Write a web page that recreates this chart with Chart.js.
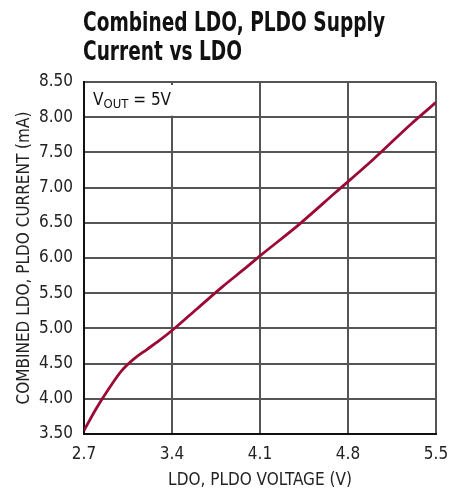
<!DOCTYPE html>
<html>
<head>
<meta charset="utf-8">
<script src="https://cdn.jsdelivr.net/npm/chart.js@4"></script>
<style>
  html, body { margin: 0; padding: 0; background: #fff; }
  #wrap { position: relative; width: 463px; height: 489px; }
  canvas { display: block; }
</style>
</head>
<body>
<div id="wrap"><canvas id="c" width="463" height="489"></canvas></div>
<script>
// ---- data ----
const titleLines = ["Combined LDO, PLDO Supply", "Current vs LDO"];
const xTitle = "LDO, PLDO VOLTAGE (V)";
const yTitle = "COMBINED LDO, PLDO CURRENT (mA)";
const xTicks = [2.7, 3.4, 4.1, 4.8, 5.5];
const yTicks = [3.5, 4.0, 4.5, 5.0, 5.5, 6.0, 6.5, 7.0, 7.5, 8.0, 8.5];
const voltage = [2.7, 2.8, 2.9, 3.0, 3.1, 3.2, 3.3, 3.4, 3.6, 3.8, 4.0, 4.1, 4.4, 4.7, 5.0, 5.3, 5.5];
const current = [3.55, 3.87, 4.15, 4.40, 4.57, 4.70, 4.83, 4.97, 5.28, 5.59, 5.88, 6.03, 6.46, 6.93, 7.40, 7.90, 8.21];
const noteMain = "V";
const noteSub = "OUT";
const noteRest = " = 5V";

const FONT = "'DejaVu Sans Condensed', 'Liberation Sans', sans-serif";
const LINE_COLOR = "#9b0a35";
const GRID_COLOR = "#555555";

const points = voltage.map((v, i) => ({ x: v, y: current[i] }));

const overlay = {
  id: 'overlay',
  afterDraw(chart) {
    const ctx = chart.ctx;
    const ca = chart.chartArea;
    const xs = chart.scales.x, ys = chart.scales.y;
    ctx.save();
    // title, horizontally condensed
    ctx.fillStyle = '#111';
    ctx.font = "bold 26px " + FONT;
    ctx.textBaseline = 'alphabetic';
    ctx.textAlign = 'left';
    const w0 = ctx.measureText(titleLines[0]).width;
    const sx = 302 / w0;
    ctx.save();
    ctx.translate(ca.left - 1, 0);
    ctx.scale(sx, 1);
    ctx.fillText(titleLines[0], 0, 31);
    ctx.fillText(titleLines[1], 0, 60);
    ctx.restore();
    // note box (hides grid behind)
    const bx1 = xs.getPixelForValue(3.4) + 2;
    const by1 = ys.getPixelForValue(8.0) - 1.5;
    ctx.fillStyle = '#fff';
    ctx.fillRect(ca.left + 1, ca.top + 3, bx1 - ca.left - 1, by1 - ca.top - 3);
    ctx.fillStyle = '#111';
    let x = ca.left + 9;
    const base = ca.top + 23;
    ctx.font = "17px " + FONT;
    ctx.fillText(noteMain, x, base);
    x += ctx.measureText(noteMain).width;
    ctx.font = "13px " + FONT;
    ctx.fillText(noteSub, x, base + 3);
    x += ctx.measureText(noteSub).width;
    ctx.font = "17px " + FONT;
    ctx.fillText(noteRest, x, base);
    ctx.restore();
  }
};

new Chart(document.getElementById('c'), {
  type: 'line',
  data: {
    datasets: [{
      data: points,
      borderColor: LINE_COLOR,
      borderWidth: 2.8,
      pointRadius: 0,
      tension: 0.4,
      cubicInterpolationMode: 'monotone',
      fill: false
    }]
  },
  options: {
    responsive: false,
    animation: false,
    devicePixelRatio: 1,
    layout: { padding: { left: 0, right: 27, top: 82, bottom: 0 } },
    plugins: { legend: { display: false }, tooltip: { enabled: false }, title: { display: false } },
    scales: {
      x: {
        type: 'linear',
        min: 2.7, max: 5.5,
        afterBuildTicks: (s) => { s.ticks = xTicks.map(v => ({ value: v })); },
        afterFit: (s) => { s.height = 55; },
        grid: { color: GRID_COLOR, lineWidth: 2, drawTicks: false },
        border: { color: '#111', width: 2 },
        ticks: {
          padding: 10, color: '#222',
          font: { family: FONT, size: 17 },
          maxRotation: 0,
          callback: (v) => v.toFixed(1)
        },
        title: {
          display: true, text: xTitle, color: '#222',
          font: { family: FONT, size: 17 },
          padding: { top: 0, bottom: -2 }
        }
      },
      y: {
        type: 'linear',
        min: 3.5, max: 8.5,
        afterBuildTicks: (s) => { s.ticks = yTicks.map(v => ({ value: v })); },
        afterFit: (s) => { s.width = 84; },
        grid: { color: GRID_COLOR, lineWidth: 2, drawTicks: false },
        border: { color: '#111', width: 2 },
        ticks: {
          padding: 11, color: '#222',
          font: { family: FONT, size: 17 },
          callback: (v) => v.toFixed(2)
        },
        title: {
          display: true, text: yTitle, color: '#222',
          font: { family: FONT, size: 17 },
          padding: { top: 14, bottom: 0 }
        }
      }
    }
  },
  plugins: [overlay]
});
</script>
</body>
</html>
